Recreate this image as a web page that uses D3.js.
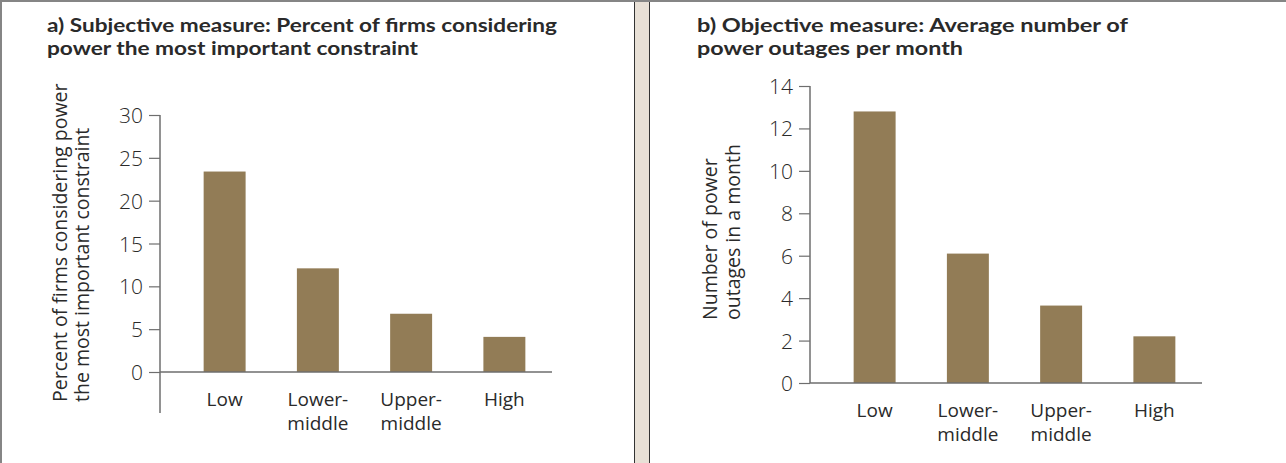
<!DOCTYPE html>
<html><head><meta charset="utf-8">
<script src="https://d3js.org/d3.v7.min.js"></script>
<style>
html,body{margin:0;padding:0;background:#fff;}
svg{display:block;}
text{font-family:"Open Sans","Noto Sans",sans-serif;fill:#2a2a2a;}
</style></head>
<body>
<svg id="c" width="1286" height="463"></svg>
<script>
const categories = ["Low", "Lower-middle", "Upper-middle", "High"];
const categoryLines = [["Low"], ["Lower-", "middle"], ["Upper-", "middle"], ["High"]];
const subjectiveValues = [23.4, 12.1, 6.8, 4.1];
const outageValues = [12.8, 6.1, 3.65, 2.2];
const subjectiveTicks = [0, 5, 10, 15, 20, 25, 30];
const outageTicks = [0, 2, 4, 6, 8, 10, 12, 14];
const titleA = ["a) Subjective measure: Percent of firms considering", "power the most important constraint"];
const titleB = ["b) Objective measure: Average number of", "power outages per month"];
const ylabelA = ["Percent of firms considering power", "the most important constraint"];
const ylabelB = ["Number of power", "outages in a month"];

const svg = d3.select("#c");
const barColor = "#927c56";
const axisColor = "#6e6e6e";

// frame
svg.append("rect").attr("x",634).attr("y",0).attr("width",15).attr("height",463).attr("fill","#e8e0d6");
svg.append("line").attr("x1",634.5).attr("x2",634.5).attr("y1",0).attr("y2",463).attr("stroke","#333").attr("stroke-width",1);
svg.append("line").attr("x1",649.5).attr("x2",649.5).attr("y1",0).attr("y2",463).attr("stroke","#333").attr("stroke-width",1);
svg.append("line").attr("x1",0).attr("x2",1286).attr("y1",1).attr("y2",1).attr("stroke","#858585").attr("stroke-width",2);
svg.append("line").attr("x1",1).attr("x2",1).attr("y1",0).attr("y2",463).attr("stroke","#858585").attr("stroke-width",2);

function panel(opt){
  const g = svg.append("g");
  opt.title.forEach((s,i)=>{
    g.append("text").attr("x",opt.x0+47).attr("y",32+i*23)
      .attr("textLength",opt.titleW[i]).attr("lengthAdjust","spacingAndGlyphs")
      .style("font-family","Lato, 'Open Sans', sans-serif")
      .style("font-weight","700").style("font-size","19px").text(s);
  });

  const y = d3.scaleLinear().domain(opt.domain).range([opt.yBottom, opt.yTop]);
  const x = d3.scaleBand().domain(categories).range([opt.x0+178, opt.x0+551]).paddingInner(0.55).paddingOuter(0.275);
  const axX = opt.x0+160;

  g.selectAll("rect.bar").data(opt.values).join("rect").attr("class","bar")
    .attr("x",(d,i)=>x(categories[i])).attr("width",x.bandwidth())
    .attr("y",d=>y(d)).attr("height",d=>y(0)-y(d)).attr("fill",barColor);

  const ya = g.append("g").attr("transform",`translate(${axX},0)`)
    .call(d3.axisLeft(y).tickValues(opt.ticks).tickSize(11).tickPadding(6).tickFormat(d3.format("d")));
  ya.select(".domain").remove();
  ya.selectAll(".tick line").attr("stroke",axisColor).attr("stroke-width",1.2);
  ya.selectAll(".tick text").style("font-size","21px").style("font-weight","300").attr("fill","#222").attr("dy","0.36em");
  g.append("line").attr("x1",axX).attr("x2",axX).attr("y1",opt.yTop).attr("y2",opt.axisEnd)
    .attr("stroke",axisColor).attr("stroke-width",1.5);
  g.append("line").attr("x1",axX).attr("x2",opt.x0+552).attr("y1",y(0)).attr("y2",y(0))
    .attr("stroke",axisColor).attr("stroke-width",1.5);

  categoryLines.forEach((lines,i)=>{
    const tx = g.append("text").attr("text-anchor","middle").attr("y",y(0)+34)
      .style("font-size","19px").style("font-weight","400").attr("fill","#333");
    lines.forEach((s,j)=>tx.append("tspan").attr("x",x(categories[i])+x.bandwidth()/2).attr("dy",j?24:0).text(s));
  });

  opt.ylabel.forEach((s,i)=>{
    g.append("text").attr("transform",`translate(${opt.ylx[i]},${opt.ylY}) rotate(-90)`)
      .attr("text-anchor","start").style("font-size","19.5px").style("font-weight","400").attr("fill","#333").text(s);
  });
}

panel({x0:0, title:titleA, titleW:[510,371], domain:[0,30], yBottom:372, yTop:115, axisEnd:413, ticks:subjectiveTicks,
  values:subjectiveValues, ylabel:ylabelA, ylx:[67,89], ylY:402});
panel({x0:650, title:titleB, titleW:[431,266], domain:[0,14], yBottom:383, yTop:86, axisEnd:383, ticks:outageTicks,
  values:outageValues, ylabel:ylabelB, ylx:[717,740], ylY:320});
</script>
</body></html>
